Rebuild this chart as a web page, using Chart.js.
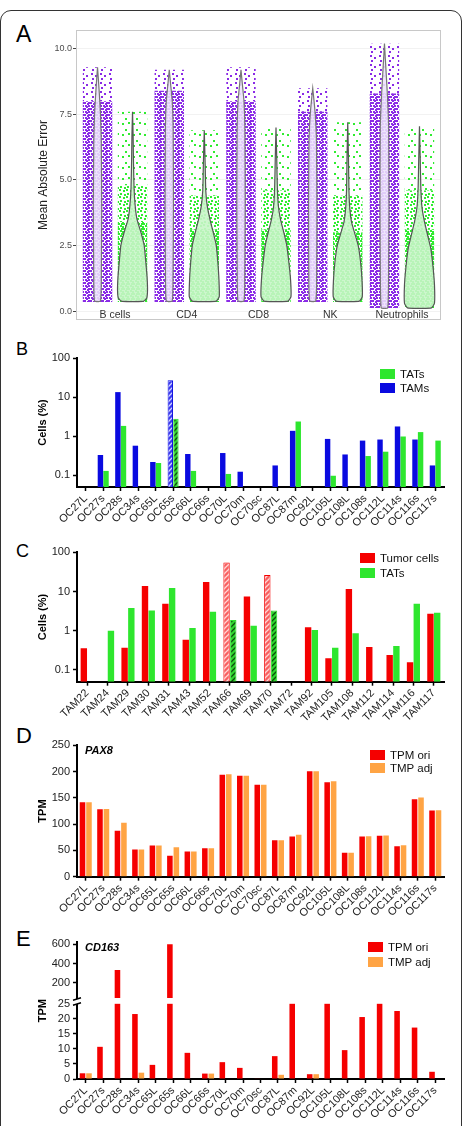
<!DOCTYPE html>
<html>
<head>
<meta charset="utf-8">
<script src="https://cdn.jsdelivr.net/npm/chart.js@4.4.1/dist/chart.umd.min.js"></script>
<style>
  html, body { margin: 0; padding: 0; background: #fff; }
  body { width: 465px; height: 1126px; position: relative; overflow: hidden; font-family: "Liberation Sans", Arial, sans-serif; }
  .frame { position: absolute; left: 0; top: 10px; width: 462px; height: 1140px; border: 1.5px solid #333; border-radius: 11px; box-sizing: border-box; }
  .letter { position: absolute; left: 16px; line-height: 1; color: #000; }
  .box { position: absolute; left: 0; width: 465px; }
  .legend-row { position: absolute; height: 10px; font-size: 11.5px; line-height: 10px; color: #111; white-space: nowrap; }
  .legend-row span.sw { position: absolute; left: 0; top: 0; width: 15px; height: 10px; }
  .legend-row span.tx { position: absolute; left: 20px; top: 0; }
  .gene { position: absolute; left: 85px; font: italic bold 11px "Liberation Sans", Arial, sans-serif; color: #000; }
</style>
</head>
<body>
<div class="frame"></div>

<div class="letter" style="top:23px;font-size:23px">A</div>
<div class="letter" style="top:340px;font-size:18px">B</div>
<div class="letter" style="top:542px;font-size:18px">C</div>
<div class="letter" style="top:725px;font-size:22px">D</div>
<div class="letter" style="top:928px;font-size:22px">E</div>

<div class="box" style="top:0;height:330px"><canvas id="chartA"></canvas></div>
<div class="box" style="top:335px;height:200px"><canvas id="chartB"></canvas></div>
<div class="box" style="top:538px;height:187px"><canvas id="chartC"></canvas></div>
<div class="box" style="top:735px;height:190px"><canvas id="chartD"></canvas></div>
<div class="box" style="top:930px;height:196px"><canvas id="chartE"></canvas></div>

<div class="gene" style="top:744px">PAX8</div>
<div class="gene" style="top:941px">CD163</div>

<div id="legends"></div>

<script>
// ---------- panel A: error distributions per cell type ----------
const groupNames = ['B cells', 'CD4', 'CD8', 'NK', 'Neutrophils'];
const aTicks = [0, 2.5, 5, 7.5, 10];

// extent of the jittered points (purple = left, green = right)
const purpleMin      = [0.35, 0.35, 0.35, 0.35, 0.12];
const purpleDenseTop = [8.0, 8.4, 8.0, 7.6, 8.3];
const purpleMax      = [9.3, 9.2, 9.3, 8.5, 10.2];
const greenMin       = [0.35, 0.35, 0.35, 0.35, 0.12];
const greenDenseTop  = [3.4, 3.1, 3.1, 3.0, 3.1];
const greenMidTop    = [4.8, 4.4, 4.6, 4.4, 4.6];
const greenMax       = [7.6, 6.9, 7.0, 7.2, 7.0];

// violin density profiles: [error, relative width]
const purpleViolins = [
  [[0.36, 0], [0.38, 0.2], [1, 0.25], [4, 0.28], [6.5, 0.25], [7.5, 0.2], [8.3, 0.12], [8.9, 0.05], [9.3, 0]],
  [[0.36, 0], [0.38, 0.2], [1, 0.25], [4, 0.28], [7, 0.26], [8, 0.2], [8.6, 0.1], [9.2, 0]],
  [[0.36, 0], [0.38, 0.2], [1, 0.25], [4, 0.28], [7, 0.26], [8, 0.2], [8.6, 0.1], [9.2, 0]],
  [[0.36, 0], [0.38, 0.2], [1, 0.26], [4, 0.28], [6.5, 0.25], [7.4, 0.18], [8.0, 0.09], [8.5, 0]],
  [[0.1, 0], [0.12, 0.22], [1, 0.27], [4, 0.3], [7, 0.28], [8.2, 0.2], [9.2, 0.1], [10.2, 0]]
];
const greenViolins = [
  [[0.36, 0], [0.38, 0.75], [0.5, 0.95], [0.8, 1], [1.3, 0.97], [1.9, 0.88], [2.5, 0.78], [3.0, 0.56], [3.5, 0.3], [4.0, 0.18], [4.7, 0.1], [5.8, 0.06], [6.7, 0.04], [7.6, 0]],
  [[0.36, 0], [0.38, 0.8], [0.55, 1], [1.2, 0.98], [1.9, 0.9], [2.5, 0.8], [3.0, 0.6], [3.5, 0.38], [4.0, 0.2], [4.6, 0.1], [5.6, 0.06], [6.9, 0]],
  [[0.36, 0], [0.38, 0.8], [0.55, 1], [1.2, 0.97], [1.9, 0.85], [2.5, 0.72], [3.0, 0.52], [3.5, 0.3], [4.0, 0.16], [4.7, 0.09], [5.8, 0.05], [7.0, 0]],
  [[0.36, 0], [0.38, 0.78], [0.55, 0.97], [1.2, 0.95], [1.9, 0.85], [2.5, 0.7], [3.0, 0.45], [3.4, 0.25], [3.9, 0.14], [4.6, 0.08], [5.8, 0.05], [7.2, 0]],
  [[0.1, 0], [0.12, 0.8], [0.3, 1], [1.0, 1], [1.7, 0.9], [2.4, 0.75], [3.0, 0.5], [3.5, 0.3], [4.0, 0.16], [4.7, 0.09], [5.8, 0.05], [7.05, 0]]
];

// ---------- panels B, D, E samples ----------
const ocSamples = ['OC27L', 'OC27s', 'OC28s', 'OC34s', 'OC65L', 'OC65s', 'OC66L', 'OC66s', 'OC70L', 'OC70m', 'OC70sc',
  'OC87L', 'OC87m', 'OC92L', 'OC105L', 'OC108L', 'OC108s', 'OC112L', 'OC114s', 'OC116s', 'OC117s'];

// B: cells (%)
const tamsB = [null, 0.33, 13.4, 0.57, 0.218, 27, 0.349, null, 0.37, 0.123, null, 0.178, 1.37, null, 0.85, 0.34, 0.77, 0.82, 1.77, 0.82, 0.178];
const tatsB = [null, 0.129, 1.83, null, 0.206, 2.8, 0.129, null, 0.108, null, null, null, 2.37, null, 0.097, null, 0.31, 0.4, 0.98, 1.27, 0.77];
const hatchedB = ['OC65s'];

// C: cells (%)
const tamSamples = ['TAM22', 'TAM24', 'TAM29', 'TAM30', 'TAM31', 'TAM43', 'TAM52', 'TAM66', 'TAM69', 'TAM70', 'TAM72',
  'TAM92', 'TAM105', 'TAM108', 'TAM112', 'TAM114', 'TAM116', 'TAM117'];
const tumorC = [0.356, null, 0.37, 13.9, 4.86, 0.59, 17.6, 54.6, 7.46, 26.5, null, 1.22, 0.198, 11.5, 0.385, 0.24, 0.157, 2.7];
const tatsC = [null, 1.0, 3.77, 3.29, 12.2, 1.17, 3.04, 1.87, 1.34, 3.29, null, 1.04, 0.37, 0.86, null, 0.41, 4.86, 2.87];
const hatchedC = ['TAM66', 'TAM70'];
const logTicks = [0.1, 1, 10, 100];

// D: PAX8 TPM
const pax8Ori = [141.8, 128.5, 87.3, 52, 59.5, 40, 48, 54.4, 194.3, 192.4, 175.3, 69.6, 76.6, 201, 179.7, 45.6, 76.6, 77.8, 58.2, 147.5, 126];
const pax8Adj = [141.8, 129, 102.5, 52, 59.5, 56.3, 48, 54.4, 195, 192.4, 175.3, 69.6, 79.7, 201, 181.6, 45.6, 77.2, 78.5, 60.1, 150.6, 126.6];
const dTicks = [0, 50, 100, 150, 200, 250];

// E: CD163 TPM (broken axis)
const cd163Ori = [1.9, 10.7, 332, 21.6, 4.7, 600, 8.7, 1.8, 5.6, 3.7, 0.2, 7.6, 25, 1.6, 25, 9.6, 20.6, 25, 22.6, 17.1, 2.4];
const cd163Adj = [1.9, null, null, 2.1, null, null, null, 1.8, null, null, null, 1.4, null, 1.6, null, null, null, null, null, null, null];
const eLowTicks = [0, 5, 10, 15, 20, 25];
const eHighTicks = [200, 400, 600];
const eLowCap = 25;
const eHighBase = 42;

// ---------- styling ----------
const FONT = '"Liberation Sans", Arial, sans-serif';
Chart.defaults.font.family = FONT;
Chart.defaults.animation = false;
Chart.defaults.color = '#222';

const RED = '#f50000', GREEN = '#2ee62e', BLUE = '#0a0ae0', ORANGE = '#ffa444';
const PURPLE_DOT = '#8a2be6', GREEN_DOT = '#30ec30';

function tilePattern(size, paint) {
  const c = document.createElement('canvas');
  c.width = c.height = size;
  const g = c.getContext('2d');
  paint(g, size);
  return g.createPattern(c, 'repeat');
}
function speckle(color, size, dots) {
  return tilePattern(size, g => {
    g.fillStyle = color;
    dots.forEach(([x, y]) => g.fillRect(x, y, 2, 2));
  });
}
function hatch(bg, stripe) {
  return tilePattern(5, (g, s) => {
    g.fillStyle = bg; g.fillRect(0, 0, s, s);
    g.strokeStyle = stripe; g.lineWidth = 1.3;
    g.beginPath();
    g.moveTo(0, s); g.lineTo(s, 0);
    g.moveTo(-1, 1); g.lineTo(1, -1);
    g.moveTo(s - 1, s + 1); g.lineTo(s + 1, s - 1);
    g.stroke();
  });
}

const purpleDense = speckle(PURPLE_DOT, 6, [[0, 0], [3, 1], [1, 3], [4, 3], [2, 4], [4, 0]]);
const purpleSparse = speckle(PURPLE_DOT, 9, [[1, 1], [5, 3], [2, 6]]);
const greenDense = speckle(GREEN_DOT, 5, [[0, 0], [2, 1], [1, 3], [3, 3]]);
const greenMid = speckle(GREEN_DOT, 7, [[0, 0], [4, 1], [1, 4], [5, 5]]);
const greenSparse = speckle(GREEN_DOT, 11, [[1, 2], [7, 1], [4, 8]]);

// ---------- chart A ----------
const DODGE = 0.244, CLOUD_HW = 0.205, VIOLIN_W = 0.209;

function rectSet(cx, y0, y1, pattern) {
  return {
    data: [{ x: cx - CLOUD_HW, y: y0 }, { x: cx + CLOUD_HW, y: y0 }, { x: cx + CLOUD_HW, y: y1 }, { x: cx - CLOUD_HW, y: y1 }, { x: cx - CLOUD_HW, y: y0 }],
    showLine: true, fill: 'shape', backgroundColor: pattern, borderColor: 'transparent', borderWidth: 0, pointRadius: 0, order: 2
  };
}
function violinSet(cx, profile, fillColor, lineColor) {
  const right = profile.map(([y, d]) => ({ x: cx + d * VIOLIN_W, y }));
  const left = profile.slice().reverse().map(([y, d]) => ({ x: cx - d * VIOLIN_W, y }));
  return {
    data: right.concat(left), showLine: true, fill: 'shape', backgroundColor: fillColor,
    borderColor: lineColor, borderWidth: 1.2, pointRadius: 0, tension: 0.15, order: 0
  };
}

const aSets = [];
groupNames.forEach((name, i) => {
  const pc = i + 1 - DODGE, gc = i + 1 + DODGE;
  aSets.push(violinSet(pc, purpleViolins[i], 'rgba(236,226,250,0.88)', '#777'));
  aSets.push(violinSet(gc, greenViolins[i], 'rgba(200,245,200,0.9)', '#555'));
  aSets.push(rectSet(pc, purpleMin[i], purpleDenseTop[i], purpleDense));
  aSets.push(rectSet(pc, purpleDenseTop[i], purpleMax[i], purpleSparse));
  aSets.push(rectSet(gc, greenMin[i], greenDenseTop[i], greenDense));
  aSets.push(rectSet(gc, greenDenseTop[i], greenMidTop[i], greenMid));
  aSets.push(rectSet(gc, greenMidTop[i], greenMax[i], greenSparse));
});

// light panel border plus the group names, which sit inside the panel
const panelFrame = {
  id: 'panelFrame',
  afterDraw(chart) {
    const { ctx, chartArea: a } = chart;
    const xs = chart.scales.x;
    ctx.save();
    ctx.strokeStyle = '#c8c8c8'; ctx.lineWidth = 1;
    ctx.strokeRect(a.left + 0.5, a.top + 0.5, a.width - 1, a.height - 1);
    ctx.font = '10.5px ' + FONT;
    ctx.fillStyle = '#333';
    ctx.textAlign = 'center'; ctx.textBaseline = 'middle';
    groupNames.forEach((n, i) => ctx.fillText(n, xs.getPixelForValue(i + 1), a.bottom - 5));
    ctx.restore();
  }
};

new Chart(document.getElementById('chartA'), {
  type: 'scatter',
  data: { datasets: aSets },
  plugins: [panelFrame],
  options: {
    responsive: true, maintainAspectRatio: false,
    layout: { padding: { left: 32, right: 24, top: 30, bottom: 8 } },
    plugins: { legend: { display: false }, tooltip: { enabled: false } },
    scales: {
      x: {
        type: 'linear', min: 0.456, max: 5.544,
        ticks: { display: false },
        grid: { display: false }, border: { display: false },
        afterFit: s => { s.height = 2; }
      },
      y: {
        type: 'linear', min: -0.34, max: 10.72,
        afterBuildTicks: s => { s.ticks = aTicks.map(v => ({ value: v })); },
        ticks: { callback: v => v.toFixed(1), color: '#4d4d4d', font: { size: 9 }, padding: 1, autoSkip: false },
        grid: { color: '#f2f2f2', tickColor: '#444', tickLength: 3 },
        border: { display: false },
        title: { display: true, text: 'Mean Absolute Error', color: '#222', font: { size: 12 }, padding: { top: 4, bottom: 0 } },
        afterFit: s => { s.width = 44; }
      }
    }
  }
});

// ---------- bar chart helpers ----------
function xAxis(height) {
  return {
    type: 'category', offset: true,
    grid: { drawOnChartArea: false, offset: false, tickLength: 4, tickColor: '#000', tickWidth: 1.5 },
    border: { color: '#000', width: 2 },
    ticks: { color: '#222', font: { size: 11 }, maxRotation: 45, minRotation: 45, padding: 1, autoSkip: false },
    afterFit: s => { s.height = height; }
  };
}
function yTitle(text) {
  return { display: true, text, color: '#000', font: { size: 11, weight: 'bold' }, padding: { top: 4, bottom: 0 } };
}
const yGrid = { drawOnChartArea: false, tickLength: 4, tickColor: '#000', tickWidth: 1.5 };
const yBorder = { color: '#000', width: 2 };
const yTickFont = { color: '#222', font: { size: 11 }, padding: 3, autoSkip: false };

function barOptions(padTop, padBottom, scales) {
  return {
    responsive: true, maintainAspectRatio: false,
    layout: { padding: { left: 32, right: 21, top: padTop, bottom: padBottom } },
    plugins: { legend: { display: false }, tooltip: { enabled: false } },
    scales
  };
}
function logAxis(title) {
  return {
    type: 'logarithmic', min: 0.05, max: 100,
    afterBuildTicks: s => { s.ticks = logTicks.map(v => ({ value: v })); },
    ticks: Object.assign({ callback: v => String(v) }, yTickFont),
    grid: yGrid, border: yBorder, title: yTitle(title),
    afterFit: s => { s.width = 45; }
  };
}
function styled(labels, hatched, color, hatchPattern) {
  return {
    backgroundColor: labels.map(l => hatched.includes(l) ? hatchPattern : color),
    borderColor: color,
    borderWidth: labels.map(l => hatched.includes(l) ? 1 : 0)
  };
}

// ---------- chart B ----------
new Chart(document.getElementById('chartB'), {
  type: 'bar',
  data: {
    labels: ocSamples,
    datasets: [
      Object.assign({ label: 'TAMs', data: tamsB, categoryPercentage: 0.64, barPercentage: 0.97 },
        styled(ocSamples, hatchedB, BLUE, hatch('#3a3af0', '#cfd2ff'))),
      Object.assign({ label: 'TATs', data: tatsB, categoryPercentage: 0.64, barPercentage: 0.97 },
        styled(ocSamples, hatchedB, GREEN, hatch('#2cd62c', '#0b4d0b')))
    ]
  },
  options: barOptions(23, 2, { x: xAxis(46), y: logAxis('Cells (%)') })
});

// ---------- chart C ----------
new Chart(document.getElementById('chartC'), {
  type: 'bar',
  data: {
    labels: tamSamples,
    datasets: [
      Object.assign({ label: 'Tumor cells', data: tumorC, categoryPercentage: 0.66, barPercentage: 0.95 },
        styled(tamSamples, hatchedC, RED, hatch('#f86060', '#ffd6d6'))),
      Object.assign({ label: 'TATs', data: tatsC, categoryPercentage: 0.66, barPercentage: 0.95 },
        styled(tamSamples, hatchedC, GREEN, hatch('#2cd62c', '#0b4d0b')))
    ]
  },
  options: barOptions(14.3, 2.3, { x: xAxis(41), y: logAxis('Cells (%)') })
});

// ---------- chart D ----------
new Chart(document.getElementById('chartD'), {
  type: 'bar',
  data: {
    labels: ocSamples,
    datasets: [
      { label: 'TPM ori', data: pax8Ori, backgroundColor: RED, categoryPercentage: 0.74, barPercentage: 0.86 },
      { label: 'TMP adj', data: pax8Adj, backgroundColor: ORANGE, categoryPercentage: 0.74, barPercentage: 0.86 }
    ]
  },
  options: barOptions(10.4, 2.3, {
    x: xAxis(46),
    y: {
      type: 'linear', min: 0, max: 250,
      afterBuildTicks: s => { s.ticks = dTicks.map(v => ({ value: v })); },
      ticks: yTickFont, grid: yGrid, border: yBorder, title: yTitle('TPM'),
      afterFit: s => { s.width = 45; }
    }
  })
});

// ---------- chart E (broken y axis) ----------
const axisBreak = {
  id: 'axisBreak',
  afterDraw(chart) {
    const hi = chart.scales.yHigh, lo = chart.scales.yLow, ctx = chart.ctx;
    const x = hi.right;
    const yb = hi.bottom;
    ctx.save();
    ctx.fillStyle = '#fff';
    ctx.fillRect(x - 5, yb - 3, 10, 5);
    ctx.strokeStyle = '#000'; ctx.lineWidth = 1.5;
    [yb - 3, yb + 2].forEach(y => {
      ctx.beginPath(); ctx.moveTo(x - 4, y + 1.2); ctx.lineTo(x + 4, y - 1.2); ctx.stroke();
    });
    ctx.translate(hi.left + 10.6, (hi.top + lo.bottom) / 2);
    ctx.rotate(-Math.PI / 2);
    ctx.font = 'bold 11px ' + FONT;
    ctx.textAlign = 'center'; ctx.textBaseline = 'middle'; ctx.fillStyle = '#000';
    ctx.fillText('TPM', 0, 0);
    ctx.restore();
  }
};

new Chart(document.getElementById('chartE'), {
  type: 'bar',
  plugins: [axisBreak],
  data: {
    labels: ocSamples,
    datasets: [
      { label: 'TPM ori', data: cd163Ori.map(v => Math.min(v, eLowCap)), yAxisID: 'yLow', stack: 'ori', backgroundColor: RED, categoryPercentage: 0.74, barPercentage: 0.86 },
      { label: 'TMP adj', data: cd163Adj, yAxisID: 'yLow', stack: 'adj', backgroundColor: ORANGE, categoryPercentage: 0.74, barPercentage: 0.86 },
      { label: 'TPM ori', data: cd163Ori.map(v => v > eHighBase ? [eHighBase, v] : null), yAxisID: 'yHigh', stack: 'ori', backgroundColor: RED, categoryPercentage: 0.74, barPercentage: 0.86 }
    ]
  },
  options: barOptions(12.4, 2, {
    x: xAxis(45),
    yLow: {
      type: 'linear', position: 'left', stack: 'e', stackWeight: 77, weight: 0, stacked: false, min: 0, max: 25.6,
      afterBuildTicks: s => { s.ticks = eLowTicks.map(v => ({ value: v })); },
      ticks: yTickFont, grid: yGrid, border: yBorder,
      afterFit: s => { s.width = 45; }
    },
    yHigh: {
      type: 'linear', position: 'left', stack: 'e', stackWeight: 59.6, weight: 1, stacked: false, min: 0, max: 620,
      afterBuildTicks: s => { s.ticks = eHighTicks.map(v => ({ value: v })); },
      ticks: yTickFont, grid: yGrid, border: yBorder,
      afterFit: s => { s.width = 45; }
    }
  })
});

// ---------- HTML legends ----------
const legendSpecs = [
  { left: 380, tops: [369, 383], items: [['TATs', GREEN], ['TAMs', BLUE]] },
  { left: 360, tops: [553, 567.5], items: [['Tumor cells', RED], ['TATs', GREEN]] },
  { left: 370, tops: [750, 763], items: [['TPM ori', RED], ['TMP adj', ORANGE]] },
  { left: 368, tops: [942, 957], items: [['TPM ori', RED], ['TMP adj', ORANGE]] }
];
const legendRoot = document.getElementById('legends');
legendSpecs.forEach(spec => {
  spec.items.forEach(([text, color], k) => {
    const row = document.createElement('div');
    row.className = 'legend-row';
    row.style.left = spec.left + 'px';
    row.style.top = spec.tops[k] + 'px';
    row.innerHTML = `<span class="sw" style="background:${color}"></span><span class="tx">${text}</span>`;
    legendRoot.appendChild(row);
  });
});
</script>
</body>
</html>
